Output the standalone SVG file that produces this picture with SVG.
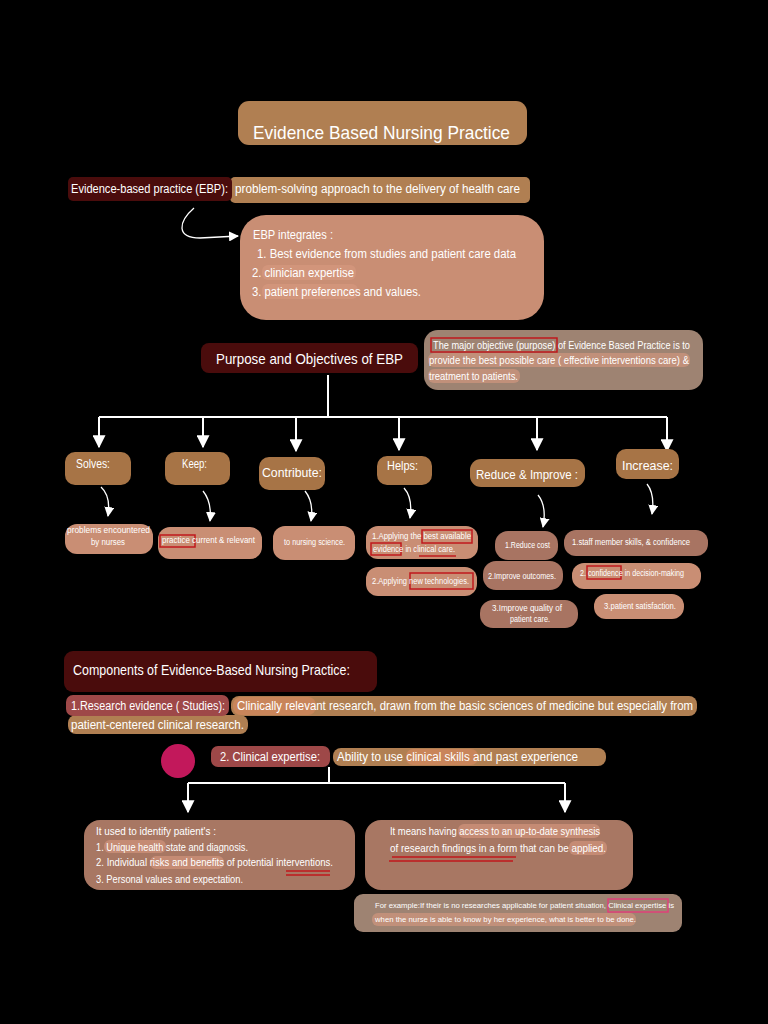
<svg xmlns="http://www.w3.org/2000/svg" width="768" height="1024" viewBox="0 0 768 1024">
<defs>
<marker id="ah" viewBox="0 0 10 10" refX="9" refY="5" markerWidth="10" markerHeight="10" markerUnits="userSpaceOnUse" orient="auto">
<path d="M0,0 L10,5 L0,10 z" fill="#ffffff"/>
</marker>
<marker id="ahb" viewBox="0 0 10 10" refX="9" refY="5" markerWidth="13" markerHeight="13" markerUnits="userSpaceOnUse" orient="auto">
<path d="M0,0 L10,5 L0,10 z" fill="#ffffff"/>
</marker>
<style>
text{font-family:"Liberation Sans",Arial,sans-serif;fill:#ffffff}
.tan{fill:#b07f52}
.brn{fill:#a77446}
.dred{fill:#4a0c0c}
.sal{fill:#c98e74}
.dsal{fill:#a87462}
.gry{fill:#9e8372}
.rose{fill:#9e4848}
.rbx{fill:#a87763}
.line{stroke:#ffffff;stroke-width:2;fill:none}
.thin{stroke:#ffffff;stroke-width:1.3;fill:none}
.red{fill:none;stroke:#c0181c;stroke-width:1.5}
.hl{fill:#d89a80;opacity:0.6}
</style>
</defs>
<rect width="768" height="1024" fill="#000000"/>

<g id="connectors">
<path class="thin" d="M194,208 C178,222 176,238 200,238 L238,236" marker-end="url(#ah)"/>
<path class="line" d="M328,375 V417 M99,417 H667"/>
<path class="line" d="M99,417 V447" marker-end="url(#ahb)"/>
<path class="line" d="M203,417 V447" marker-end="url(#ahb)"/>
<path class="line" d="M296,417 V451" marker-end="url(#ahb)"/>
<path class="line" d="M399,417 V450" marker-end="url(#ahb)"/>
<path class="line" d="M537,417 V450" marker-end="url(#ahb)"/>
<path class="line" d="M667,417 V451" marker-end="url(#ahb)"/>
<path class="thin" d="M101,487 Q111,496 108,516" marker-end="url(#ah)"/>
<path class="thin" d="M203,491 Q212,502 210,521" marker-end="url(#ah)"/>
<path class="thin" d="M305,491 Q314,502 311,521" marker-end="url(#ah)"/>
<path class="thin" d="M404,488 Q413,498 410,518" marker-end="url(#ah)"/>
<path class="thin" d="M538,495 Q547,506 543,527" marker-end="url(#ah)"/>
<path class="thin" d="M647,484 Q655,494 652,514" marker-end="url(#ah)"/>
<path class="line" d="M329,767 V783 M188,783 H565"/>
<path class="line" d="M188,783 V812" marker-end="url(#ahb)"/>
<path class="line" d="M565,783 V812" marker-end="url(#ahb)"/>
</g>

<g id="title">
<rect class="tan" x="238" y="101" width="289" height="44" rx="11"/>
<text x="253" y="139" font-size="19" textLength="257" lengthAdjust="spacingAndGlyphs">Evidence Based Nursing Practice</text>
</g>

<g id="ebp-def">
<rect class="tan" x="230" y="177" width="300" height="26" rx="5"/>
<rect class="dred" x="68" y="177" width="164" height="24" rx="5"/>
<text x="71" y="193" font-size="12" textLength="157" lengthAdjust="spacingAndGlyphs">Evidence-based practice (EBP):</text>
<text x="235" y="193" font-size="12" textLength="285" lengthAdjust="spacingAndGlyphs">problem-solving approach to the delivery of health care</text>
</g>

<g id="ebp-integrates">
<rect class="sal" x="240" y="215" width="304" height="105" rx="26"/>
<rect class="hl" x="262" y="265" width="94" height="15" rx="6"/>
<rect class="hl" x="262" y="284" width="96" height="15" rx="6"/>
<text x="253" y="239" font-size="12.5" textLength="80" lengthAdjust="spacingAndGlyphs">EBP integrates :</text>
<text x="257" y="258" font-size="12.5" textLength="259" lengthAdjust="spacingAndGlyphs">1. Best evidence from studies and patient care data</text>
<text x="252" y="277" font-size="12.5" textLength="102" lengthAdjust="spacingAndGlyphs">2. clinician expertise</text>
<text x="252" y="296" font-size="12.5" textLength="169" lengthAdjust="spacingAndGlyphs">3. patient preferences and values.</text>
</g>

<g id="purpose">
<rect class="dred" x="201" y="343" width="217" height="30" rx="8"/>
<text x="216" y="364" font-size="15" textLength="187" lengthAdjust="spacingAndGlyphs">Purpose and Objectives of EBP</text>
</g>

<g id="objective">
<rect class="gry" x="424" y="330" width="279" height="60" rx="14"/>
<rect class="hl" x="428" y="353" width="262" height="14" rx="6"/>
<rect class="hl" x="428" y="369" width="92" height="14" rx="6"/>
<rect class="red" x="431" y="338" width="126" height="14"/>
<text x="433" y="349" font-size="10.5" textLength="257" lengthAdjust="spacingAndGlyphs">The major objective (purpose) of Evidence Based Practice is to</text>
<text x="429" y="364" font-size="10.5" textLength="260" lengthAdjust="spacingAndGlyphs">provide the best possible care ( effective interventions care) &amp;</text>
<text x="429" y="380" font-size="10.5" textLength="89" lengthAdjust="spacingAndGlyphs">treatment to patients.</text>
</g>

<g id="solves"><rect class="brn" x="65" y="452" width="66" height="33" rx="10"/><text x="76" y="468" font-size="12" textLength="34" lengthAdjust="spacingAndGlyphs">Solves:</text></g>
<g id="keep"><rect class="brn" x="165" y="452" width="65" height="33" rx="10"/><text x="182" y="468" font-size="12" textLength="25" lengthAdjust="spacingAndGlyphs">Keep:</text></g>
<g id="contribute"><rect class="brn" x="259" y="457" width="66" height="33" rx="10"/><text x="262" y="477" font-size="12" textLength="60" lengthAdjust="spacingAndGlyphs">Contribute:</text></g>
<g id="helps"><rect class="brn" x="377" y="456" width="55" height="29" rx="10"/><text x="387" y="470" font-size="12" textLength="31" lengthAdjust="spacingAndGlyphs">Helps:</text></g>
<g id="reduce"><rect class="brn" x="470" y="459" width="115" height="28" rx="11"/><text x="476" y="479" font-size="12" textLength="102" lengthAdjust="spacingAndGlyphs">Reduce &amp; Improve :</text></g>
<g id="increase"><rect class="brn" x="616" y="449" width="63" height="30" rx="10"/><text x="622" y="470" font-size="12" textLength="51" lengthAdjust="spacingAndGlyphs">Increase:</text></g>

<g id="leaf-problems"><rect class="sal" x="65" y="524" width="88" height="30" rx="12"/>
<text x="67" y="533" font-size="8.5" textLength="83" lengthAdjust="spacingAndGlyphs">problems encountered</text>
<text x="91" y="545" font-size="8.5" textLength="34" lengthAdjust="spacingAndGlyphs">by nurses</text></g>
<g id="leaf-practice"><rect class="sal" x="158" y="527" width="104" height="32" rx="12"/>
<rect class="red" x="160" y="535" width="35" height="12"/>
<text x="162" y="543" font-size="8.5" textLength="93" lengthAdjust="spacingAndGlyphs">practice current &amp; relevant</text></g>
<g id="leaf-science"><rect class="sal" x="273" y="526" width="82" height="34" rx="12"/>
<text x="284" y="545" font-size="8.5" textLength="61" lengthAdjust="spacingAndGlyphs">to nursing science.</text></g>
<g id="leaf-apply1"><rect class="sal" x="366" y="526" width="112" height="33" rx="12"/>
<rect class="red" x="422" y="530" width="50" height="13"/>
<rect class="red" x="371" y="543" width="30" height="12"/>
<path d="M419,556 H456" stroke="#c0181c" stroke-width="1.3"/>
<text x="372" y="539" font-size="8.5" textLength="99" lengthAdjust="spacingAndGlyphs">1.Applying the best available</text>
<text x="373" y="552" font-size="8.5" textLength="82" lengthAdjust="spacingAndGlyphs">evidence in clinical care.</text></g>
<g id="leaf-apply2"><rect class="sal" x="366" y="567" width="111" height="29" rx="12"/>
<rect class="red" x="410" y="573" width="63" height="16"/>
<text x="372" y="584" font-size="8.5" textLength="97" lengthAdjust="spacingAndGlyphs">2.Applying new technologies.</text></g>
<g id="leaf-cost"><rect class="dsal" x="495" y="531" width="63" height="29" rx="13"/>
<text x="505" y="548" font-size="8.5" textLength="45" lengthAdjust="spacingAndGlyphs">1.Reduce cost</text></g>
<g id="leaf-outcomes"><rect class="dsal" x="483" y="561" width="80" height="29" rx="13"/>
<text x="488" y="579" font-size="8.5" textLength="68" lengthAdjust="spacingAndGlyphs">2.Improve outcomes.</text></g>
<g id="leaf-quality"><rect class="dsal" x="480" y="600" width="98" height="28" rx="13"/>
<text x="492" y="611" font-size="8.5" textLength="70" lengthAdjust="spacingAndGlyphs">3.Improve quality of</text>
<text x="510" y="622" font-size="8.5" textLength="40" lengthAdjust="spacingAndGlyphs">patient care.</text></g>
<g id="leaf-staff"><rect class="dsal" x="564" y="530" width="144" height="26" rx="12"/>
<text x="572" y="545" font-size="8.5" textLength="118" lengthAdjust="spacingAndGlyphs">1.staff member skills, &amp; confidence</text></g>
<g id="leaf-decision"><rect class="sal" x="572" y="563" width="129" height="26" rx="12"/>
<rect class="red" x="587" y="566" width="34" height="13"/>
<text x="580" y="576" font-size="8.5" textLength="104" lengthAdjust="spacingAndGlyphs">2. confidence in decision-making</text></g>
<g id="leaf-satisfaction"><rect class="sal" x="594" y="594" width="90" height="25" rx="12"/>
<text x="604" y="609" font-size="8.5" textLength="72" lengthAdjust="spacingAndGlyphs">3.patient satisfaction.</text></g>

<g id="components">
<rect class="dred" x="64" y="651" width="313" height="41" rx="9"/>
<text x="73" y="675" font-size="15" textLength="277" lengthAdjust="spacingAndGlyphs">Components of Evidence-Based Nursing Practice:</text>
</g>

<g id="research">
<rect class="tan" x="231" y="696" width="466" height="20" rx="8"/>
<rect class="tan" x="68" y="715" width="180" height="19" rx="8"/>
<rect fill="#c9855a" x="233" y="697" width="83" height="18" rx="8"/>
<rect class="rose" x="66" y="695" width="163" height="21" rx="7"/>
<text x="71" y="710" font-size="12" textLength="154" lengthAdjust="spacingAndGlyphs">1.Research evidence ( Studies):</text>
<text x="237" y="710" font-size="12" textLength="456" lengthAdjust="spacingAndGlyphs">Clinically relevant research, drawn from the basic sciences of medicine but especially from</text>
<text x="71" y="729" font-size="12" textLength="173" lengthAdjust="spacingAndGlyphs">patient-centered clinical research.</text>
</g>

<g id="bullet"><circle cx="178" cy="761" r="17" fill="#c2185b"/></g>

<g id="clinical">
<rect class="tan" x="333" y="748" width="273" height="18" rx="8"/>
<rect fill="#c9855a" x="406" y="749" width="72" height="16" rx="7"/>
<rect class="rose" x="211" y="746" width="119" height="21" rx="7"/>
<text x="220" y="761" font-size="12" textLength="100" lengthAdjust="spacingAndGlyphs">2. Clinical expertise:</text>
<text x="337" y="761" font-size="12" textLength="241" lengthAdjust="spacingAndGlyphs">Ability to use clinical skills and past experience</text>
</g>

<g id="identify">
<rect class="rbx" x="84" y="820" width="271" height="70" rx="16"/>
<rect class="hl" x="104" y="840" width="62" height="13" rx="6"/>
<rect class="hl" x="150" y="856" width="74" height="13" rx="6"/>
<text x="96" y="835" font-size="10.5" textLength="120" lengthAdjust="spacingAndGlyphs">It used to identify patient's :</text>
<text x="96" y="851" font-size="10.5" textLength="152" lengthAdjust="spacingAndGlyphs">1. Unique health state and diagnosis.</text>
<text x="96" y="866" font-size="10.5" textLength="237" lengthAdjust="spacingAndGlyphs">2. Individual risks and benefits of potential interventions.</text>
<text x="96" y="883" font-size="10.5" textLength="147" lengthAdjust="spacingAndGlyphs">3. Personal values and expectation.</text>
<path d="M286,871 H330 M286,875 H330" stroke="#c0181c" stroke-width="1.5"/>
</g>

<g id="means">
<rect class="rbx" x="365" y="820" width="268" height="70" rx="16"/>
<rect class="hl" x="458" y="824" width="142" height="14" rx="6"/>
<rect class="hl" x="569" y="841" width="38" height="14" rx="6"/>
<text x="390" y="835" font-size="10.5" textLength="210" lengthAdjust="spacingAndGlyphs">It means having access to an up-to-date synthesis</text>
<text x="390" y="852" font-size="10.5" textLength="216" lengthAdjust="spacingAndGlyphs">of research findings in a form that can be applied.</text>
<path d="M392,857 H516 M389,861 H513" stroke="#c0181c" stroke-width="1.5"/>
</g>

<g id="example">
<rect class="gry" x="354" y="894" width="328" height="38" rx="9"/>
<rect class="hl" x="372" y="913" width="264" height="13" rx="6"/>
<rect fill="none" stroke="#e0407a" stroke-width="1.5" x="608" y="899" width="60" height="13"/>
<text x="375" y="908" font-size="8" textLength="299" lengthAdjust="spacingAndGlyphs">For example:If their is no researches applicable for patient situation, Clinical expertise is</text>
<text x="375" y="922" font-size="8" textLength="261" lengthAdjust="spacingAndGlyphs">when the nurse is able to know by her experience, what is better to be done.</text>
</g>
</svg>
